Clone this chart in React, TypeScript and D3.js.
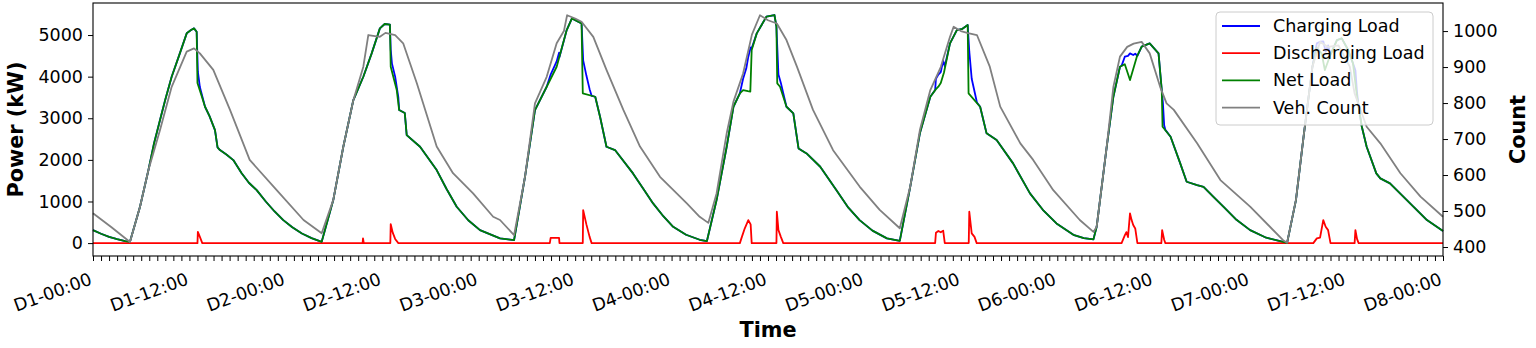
import * as d3 from 'd3'
import { useEffect, useRef } from 'react'

// [hour since D1-00:00, kW]
const chargingLoad: [number, number][] = [
  [0, 312], [1, 225], [2, 150], [3, 95], [4, 50], [4.6, 30], [5.85, 873], [6.9, 1755], [7.6, 2400], [8.34, 2957], [9.0, 3450], [9.79, 3998], [10.7, 4500], [11.66, 5041], [12.2, 5120], [12.57, 5160], [12.9, 5080], [13.05, 4120], [13.3, 3750], [13.94, 3277], [14.5, 3050], [15.18, 2716], [15.5, 2300], [15.8, 2236], [16.6, 2130], [17.46, 1995], [18.5, 1680], [19.4, 1450], [20.37, 1274], [21.5, 1000], [22.6, 760], [23.68, 553], [24.8, 380], [26, 230], [27.2, 120],
  [28.46, 31], [29.9, 1034], [31.15, 2315], [32.4, 3438], [33.64, 3998], [34.68, 4560], [35.7, 5160], [36.3, 5265], [36.95, 5250], [37.05, 4650], [37.2, 4320], [37.6, 4000], [38.0, 3500], [38.1, 3197], [38.8, 3125], [39.04, 2596], [40.7, 2315], [42.77, 1755], [44.0, 1300], [45.26, 873], [46.7, 550], [48.16, 312], [50.65, 113],
  [52.4, 72], [53.76, 1594], [55.0, 3197], [56.46, 3758], [56.95, 4050], [57.7, 4365], [58.0, 4577], [58.05, 4470], [58.95, 5120], [59.6, 5400], [60.8, 5280], [61.0, 4390], [61.4, 4026], [61.8, 3700], [62.05, 3540], [62.5, 3517], [63.1, 3036], [63.9, 2315], [64.96, 2236], [67.2, 1675], [68.5, 1300], [69.7, 954], [71.0, 640], [72.2, 392], [73.8, 200], [75.5, 80],
  [76.4, 50], [77.6, 1034], [78.86, 2315], [79.7, 3277], [80.5, 3600], [80.9, 3950], [81.3, 4200], [81.55, 4480], [81.84, 4700], [81.97, 4680], [82.6, 5040], [83.8, 5440], [84.8, 5481], [85.05, 5200], [85.1, 4950], [85.3, 4050], [85.6, 3850], [85.9, 3600], [86.3, 3277], [87.15, 3118], [87.8, 2275], [88.8, 2155], [90.5, 1835], [92.5, 1274], [94.0, 850], [95.4, 553], [97.0, 300], [98.8, 113],
  [100.4, 55], [101.7, 1354], [102.9, 2637], [104.2, 3517], [104.8, 3680], [104.9, 3950], [105.2, 4050], [105.5, 4110], [105.8, 4380], [106.0, 4250], [106.65, 4800], [107.5, 5120], [108.2, 5150], [108.85, 5240], [109.05, 4600], [109.35, 3950], [109.75, 3600], [110.0, 3380], [110.4, 3277], [111.2, 2637], [112.45, 2476], [114.5, 1916], [116.6, 1195], [118.2, 800], [119.9, 473], [122.0, 200], [123.3, 120],
  [124.5, 89], [124.9, 392], [126.15, 2315], [126.98, 3517], [127.8, 4238], [128.0, 4260], [128.4, 4480], [128.8, 4500], [129.05, 4560], [129.45, 4520], [129.7, 4550], [129.97, 4500], [130.5, 4720], [131.5, 4800], [132.6, 4560], [133.0, 3678], [133.15, 3350], [133.3, 2830], [133.45, 2720], [134.1, 2556], [135.3, 1916], [136.1, 1474], [137.4, 1394], [138.2, 1354], [139.5, 1100], [140.7, 873], [142.3, 560], [144.0, 312], [146.0, 130], [148.1, 31],
  [148.6, 5], [149.7, 1034], [150.7, 2637], [151.75, 4238], [152.3, 4800], [152.7, 4840], [153.1, 4850], [153.4, 4600], [153.7, 4750], [154.0, 4540], [154.8, 4880], [155.4, 4920], [156.2, 4640], [156.8, 4320], [157.1, 4150], [157.3, 3620], [157.5, 3280], [157.9, 2796], [158.5, 2315], [159.7, 1675], [160.2, 1555], [161.4, 1435], [163.5, 1034], [166.0, 553], [168.0, 290],
]

const dischargingLoad: [number, number][] = [
  [0, 0], [13.0, 0], [13.05, 272], [13.3, 150], [13.6, 0],
  [33.55, 0], [33.6, 113], [33.7, 0], [37.0, 0], [37.05, 457], [37.3, 250], [37.6, 100], [38.0, 0],
  [56.85, 0], [56.95, 127], [58.0, 127], [58.05, 0], [60.95, 0], [61.0, 793], [61.4, 450], [61.8, 150], [62.05, 0],
  [80.5, 0], [80.7, 120], [81.1, 350], [81.55, 553], [81.84, 450], [81.97, 0], [85.05, 0], [85.1, 753], [85.3, 312], [85.6, 150], [85.9, 0],
  [104.8, 0], [104.9, 250], [105.2, 290], [105.5, 260], [105.8, 300], [106.0, 0], [108.98, 0], [109.05, 753], [109.35, 233], [109.7, 150], [109.97, 0],
  [128.0, 0], [128.4, 185], [128.6, 265], [128.8, 145], [129.05, 714], [129.25, 553], [129.45, 433], [129.7, 353], [129.97, 0], [132.95, 0], [133.05, 312], [133.3, 80], [133.45, 0],
  [151.86, 0], [152.3, 113], [152.7, 130], [153.1, 553], [153.4, 392], [153.7, 312], [154.0, 0], [157.0, 0], [157.1, 312], [157.3, 100], [157.5, 0], [168, 0],
]

const netLoad: [number, number][] = [
  [0, 312], [1, 225], [2, 150], [3, 95], [4, 50], [4.6, 30], [5.85, 873], [6.9, 1755], [7.6, 2400], [8.34, 2957], [9.0, 3450], [9.79, 3998], [10.7, 4500], [11.66, 5041], [12.2, 5120], [12.57, 5160], [12.9, 5080], [13.0, 3846], [13.5, 3550], [13.94, 3277], [14.5, 3050], [15.18, 2716], [15.5, 2300], [15.8, 2236], [16.6, 2130], [17.46, 1995], [18.5, 1680], [19.4, 1450], [20.37, 1274], [21.5, 1000], [22.6, 760], [23.68, 553], [24.8, 380], [26, 230], [27.2, 120],
  [28.46, 31], [29.9, 1034], [31.15, 2315], [32.4, 3438], [33.64, 3998], [34.68, 4560], [35.7, 5160], [36.3, 5265], [36.95, 5250], [37.05, 4240], [37.8, 3678], [38.1, 3197], [38.8, 3125], [39.04, 2596], [40.7, 2315], [42.77, 1755], [44.0, 1300], [45.26, 873], [46.7, 550], [48.16, 312], [50.65, 113],
  [52.4, 72], [53.76, 1594], [55.0, 3197], [56.46, 3758], [57.7, 4238], [58.95, 5120], [59.6, 5400], [60.8, 5280], [60.95, 3600], [62.5, 3517], [63.1, 3036], [63.9, 2315], [64.96, 2236], [67.2, 1675], [68.5, 1300], [69.7, 954], [71.0, 640], [72.2, 392], [73.8, 200], [75.5, 80],
  [76.4, 50], [77.6, 1034], [78.86, 2315], [79.7, 3277], [80.5, 3600], [80.9, 3678], [81.5, 3650], [81.8, 3640], [81.97, 4640], [82.6, 5040], [83.8, 5440], [84.8, 5481], [85.05, 5200], [85.15, 3840], [85.5, 3758], [86.3, 3277], [87.15, 3118], [87.8, 2275], [88.8, 2155], [90.5, 1835], [92.5, 1274], [94.0, 850], [95.4, 553], [97.0, 300], [98.8, 113],
  [100.4, 55], [101.7, 1354], [102.9, 2637], [104.2, 3517], [104.9, 3700], [105.2, 3760], [105.5, 3850], [105.9, 4100], [106.65, 4800], [107.5, 5120], [108.2, 5150], [108.85, 5240], [108.96, 3600], [110.4, 3277], [111.2, 2637], [112.45, 2476], [114.5, 1916], [116.6, 1195], [118.2, 800], [119.9, 473], [122.0, 200], [123.3, 120],
  [124.5, 89], [124.9, 392], [126.15, 2315], [126.98, 3517], [127.8, 4238], [128.4, 4300], [129.05, 3918], [129.9, 4479], [130.5, 4720], [131.5, 4800], [132.6, 4560], [133.0, 3678], [133.1, 2796], [134.1, 2556], [135.3, 1916], [136.1, 1474], [137.4, 1394], [138.2, 1354], [139.5, 1100], [140.7, 873], [142.3, 560], [144.0, 312], [146.0, 130], [148.1, 31],
  [148.6, 5], [149.7, 1034], [150.7, 2637], [151.75, 4238], [152.3, 4700], [152.9, 4560], [153.3, 4159], [153.9, 4479], [154.8, 4880], [155.4, 4920], [156.2, 4640], [156.8, 4320], [157.3, 3517], [157.9, 2796], [158.5, 2315], [159.7, 1675], [160.2, 1555], [161.4, 1435], [163.5, 1034], [166.0, 553], [168.0, 290],
]

// [hour, vehicles]
const vehCount: [number, number][] = [
  [0, 494], [2.3, 455], [4.6, 414], [5.85, 512], [6.9, 614], [8.34, 725], [9.79, 845], [11.66, 943], [12.57, 952], [13.3, 938], [14.97, 892], [17.05, 781], [19.5, 642], [22.86, 558], [26.2, 475],
  [28.46, 438], [29.9, 531], [31.15, 679], [32.4, 808], [33.64, 901], [34.26, 989], [35.7, 984], [36.4, 995], [37.6, 989], [38.6, 966], [40.3, 855], [42.77, 679], [44.8, 605], [47.3, 549], [49.8, 484], [50.65, 475],
  [52.4, 433], [53.76, 595], [55.0, 799], [56.46, 873], [57.7, 966], [58.6, 1000], [59.0, 1044], [60.0, 1035], [60.8, 1026], [62.26, 984], [63.9, 892], [66.0, 781], [68.07, 679], [70.56, 595], [73.9, 521], [75.5, 484],
  [76.57, 467], [77.6, 549], [78.86, 716], [79.7, 804], [80.9, 882], [82.0, 990], [83.0, 1044], [84.0, 1030], [85.1, 1021], [86.3, 975], [87.6, 901], [89.6, 781], [92.1, 669], [95.4, 568], [97.9, 503],
  [100.4, 452], [101.7, 568], [102.9, 725], [104.2, 836], [105.5, 900], [106.65, 984], [107.1, 1012], [108.0, 1000], [108.9, 994], [110.0, 989], [111.6, 901], [112.9, 790], [115.4, 688], [117.0, 642], [119.5, 558], [122.8, 475],
  [124.5, 442], [124.9, 456], [126.15, 679], [126.98, 845], [127.8, 929], [128.7, 956], [129.5, 965], [130.5, 970], [131.5, 938], [132.8, 845], [133.6, 799], [134.5, 781], [137.4, 688], [140.3, 586], [144.0, 512], [148.1, 419],
  [148.6, 412], [149.7, 531], [150.7, 716], [151.75, 901], [152.7, 970], [153.7, 956], [155.0, 960], [156.4, 901], [157.0, 827], [158.5, 734], [160.2, 688], [162.7, 605], [165.2, 540], [168.0, 484],
]

const xTickLabels = [
  'D1-00:00', 'D1-12:00', 'D2-00:00', 'D2-12:00', 'D3-00:00', 'D3-12:00', 'D4-00:00',
  'D4-12:00', 'D5-00:00', 'D5-12:00', 'D6-00:00', 'D6-12:00', 'D7-00:00', 'D7-12:00', 'D8-00:00',
]
const powerTicks = [0, 1000, 2000, 3000, 4000, 5000]
const countTicks = [400, 500, 600, 700, 800, 900, 1000]

const series = [
  { name: 'Charging Load', color: '#0000ff', data: chargingLoad, axis: 'power' },
  { name: 'Discharging Load', color: '#ff0000', data: dischargingLoad, axis: 'power' },
  { name: 'Net Load', color: '#008000', data: netLoad, axis: 'power' },
  { name: 'Veh. Count', color: '#808080', data: vehCount, axis: 'count' },
]

const FONT = '"DejaVu Sans", sans-serif'

function App() {
  const svgRef = useRef<SVGSVGElement>(null)

  useEffect(() => {
    const svg = d3.select(svgRef.current)
    svg.selectAll('*').remove()

    const left = 93
    const right = 1443
    const top = 3
    const bottom = 256

    const x = d3.scaleLinear().domain([0, 168]).range([left, right])
    const y = d3.scaleLinear().domain([-310, 5770]).range([bottom, top])
    const yCount = d3.scaleLinear().domain([375, 1078]).range([bottom, top])

    // lines
    series.forEach((s) => {
      const yy = s.axis === 'power' ? y : yCount
      const line = d3
        .line<[number, number]>()
        .x((d) => x(d[0]))
        .y((d) => yy(d[1]))
      svg
        .append('path')
        .datum(s.data)
        .attr('d', line)
        .attr('fill', 'none')
        .attr('stroke', s.color)
        .attr('stroke-width', 1.8)
        .attr('stroke-linejoin', 'round')
    })

    // x axis: hourly ticks, label every 12 h
    const axeX = d3
      .axisBottom(x)
      .tickValues(d3.range(0, 169))
      .tickSize(5)
      .tickFormat((d) => ((d as number) % 12 === 0 ? xTickLabels[(d as number) / 12] : ''))
    const groupeX = svg.append('g').attr('transform', `translate(0, ${bottom})`).call(axeX)
    groupeX.select('.domain').remove()

    // left axis
    const axeY = d3.axisLeft(y).tickValues(powerTicks).tickSize(5).tickPadding(5).tickFormat(d3.format('d'))
    const groupeY = svg.append('g').attr('transform', `translate(${left}, 0)`).call(axeY)
    groupeY.select('.domain').remove()

    // right axis
    const axeCount = d3.axisRight(yCount).tickValues(countTicks).tickSize(5).tickPadding(5).tickFormat(d3.format('d'))
    const groupeCount = svg.append('g').attr('transform', `translate(${right}, 0)`).call(axeCount)
    groupeCount.select('.domain').remove()

    ;[groupeX, groupeY, groupeCount].forEach((g) => {
      g.attr('font-family', FONT).attr('font-size', 17.5)
      g.selectAll('.tick line').attr('stroke', '#000').attr('stroke-width', 1)
      g.selectAll('.tick text').attr('fill', '#000')
    })

    groupeX
      .selectAll('.tick text')
      .attr('y', 0)
      .attr('dy', 0)
      .attr('text-anchor', 'end')
      .attr('transform', 'translate(-0.5, 28) rotate(-20)')

    // spines
    svg
      .append('rect')
      .attr('x', left)
      .attr('y', top)
      .attr('width', right - left)
      .attr('height', bottom - top)
      .attr('fill', 'none')
      .attr('stroke', '#000')
      .attr('stroke-width', 1.1)

    // axis labels
    svg
      .append('text')
      .attr('transform', `translate(16, ${(top + bottom) / 2}) rotate(-90)`)
      .attr('text-anchor', 'middle')
      .attr('dominant-baseline', 'central')
      .attr('font-family', FONT)
      .attr('font-weight', 'bold')
      .attr('font-size', 20.8)
      .text('Power (kW)')
    svg
      .append('text')
      .attr('transform', `translate(1518, ${(top + bottom) / 2}) rotate(-90)`)
      .attr('text-anchor', 'middle')
      .attr('dominant-baseline', 'central')
      .attr('font-family', FONT)
      .attr('font-weight', 'bold')
      .attr('font-size', 20.8)
      .text('Count')
    svg
      .append('text')
      .attr('x', (left + right) / 2)
      .attr('y', 330)
      .attr('text-anchor', 'middle')
      .attr('dominant-baseline', 'central')
      .attr('font-family', FONT)
      .attr('font-weight', 'bold')
      .attr('font-size', 20.8)
      .text('Time')

    // legend
    const legend = svg.append('g').attr('transform', 'translate(1216, 12)')
    legend
      .append('rect')
      .attr('width', 217)
      .attr('height', 113)
      .attr('rx', 4)
      .attr('fill', '#fff')
      .attr('fill-opacity', 0.8)
      .attr('stroke', '#cccccc')
      .attr('stroke-width', 1)
    series.forEach((s, i) => {
      const ly = 14 + i * 27.2
      legend
        .append('line')
        .attr('x1', 6)
        .attr('x2', 44)
        .attr('y1', ly)
        .attr('y2', ly)
        .attr('stroke', s.color)
        .attr('stroke-width', 1.8)
      legend
        .append('text')
        .attr('x', 57)
        .attr('y', ly)
        .attr('dominant-baseline', 'central')
        .attr('font-family', FONT)
        .attr('font-size', 17.5)
        .attr('fill', '#000')
        .text(s.name)
    })
  }, [])

  return (
    <div style={{ position: 'absolute', left: 0, top: 0, background: '#fff' }}>
      <svg ref={svgRef} width={1536} height={348} />
    </div>
  )
}

export default App
